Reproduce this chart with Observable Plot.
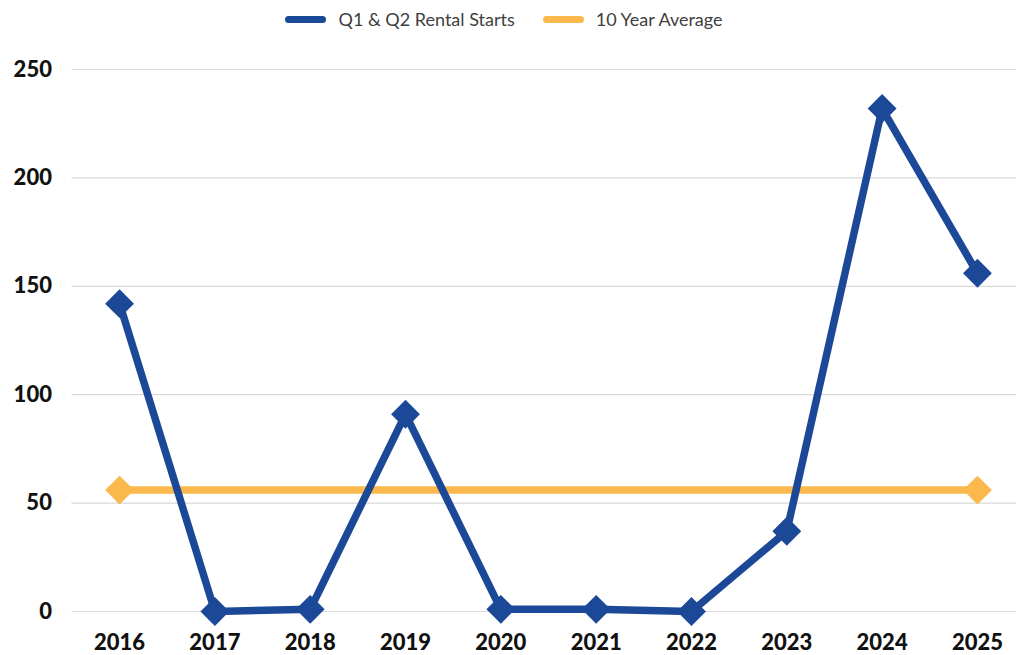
<!DOCTYPE html>
<html>
<head>
<meta charset="utf-8">
<script src="https://cdn.jsdelivr.net/npm/d3@7"></script>
<script src="https://cdn.jsdelivr.net/npm/@observablehq/plot@0.6"></script>
<style>
  html, body { margin: 0; padding: 0; background: #fff; }
  #legend { height: 38px; display: flex; justify-content: center; align-items: center; gap: 28px; font-family: Lato, "Noto Sans", sans-serif; font-size: 18px; color: #404040; padding-right: 8px; box-sizing: border-box; }
  .item { display: flex; align-items: center; gap: 12px; }
  .sw { width: 41px; height: 7px; border-radius: 4px; }
  svg { display: block; }
</style>
</head>
<body>
<div id="legend"></div>
<div id="chart"></div>
<script>
const years = [2016, 2017, 2018, 2019, 2020, 2021, 2022, 2023, 2024, 2025];
const rentalStarts = [142, 0, 1, 91, 1, 1, 0, 37, 232, 156];
const tenYearAverage = 56;
const yTicks = [0, 50, 100, 150, 200, 250];
const seriesNames = ["Q1 & Q2 Rental Starts", "10 Year Average"];
const colors = ["#1b4997", "#fbb84c"];

const starts = years.map((y, i) => ({year: y, value: rentalStarts[i]}));
const avg = [years[0], years[years.length - 1]].map(y => ({year: y, value: tenYearAverage}));

const legend = document.getElementById("legend");
seriesNames.forEach((n, i) => {
  const it = document.createElement("div");
  it.className = "item";
  it.innerHTML = `<span class="sw" style="background:${colors[i]}"></span><span>${n}</span>`;
  legend.appendChild(it);
});

const chart = Plot.plot({
  width: 1016,
  height: 617,
  marginTop: 31,
  marginBottom: 44,
  marginLeft: 71,
  marginRight: 0,
  style: {fontFamily: "Lato, 'Noto Sans', sans-serif", overflow: "hidden"},
  x: {domain: [2015.5, 2025.5], range: [71.4, 1024.6], axis: null},
  y: {domain: [0, 250], ticks: yTicks, axis: null},
  marks: [
    Plot.ruleY(yTicks, {x1: 2015.5, x2: 2025.5, stroke: "#d9d9d9", strokeWidth: 1.2}),
    Plot.text(yTicks, {x: 2015.5, y: d => d, text: d => String(d), textAnchor: "end", dx: -20, fontSize: 22, fontWeight: 900, fill: "#111"}),
    Plot.text(years, {x: d => d, y: 0, text: d => String(d), dy: 31, fontSize: 22, fontWeight: 900, fill: "#111"}),
    Plot.line(avg, {x: "year", y: "value", stroke: colors[1], strokeWidth: 7.5}),
    Plot.dot(avg, {x: "year", y: "value", symbol: "diamond2", r: 13, fill: colors[1]}),
    Plot.line(starts, {x: "year", y: "value", stroke: colors[0], strokeWidth: 7.5, strokeLinejoin: "round"}),
    Plot.dot(starts, {x: "year", y: "value", symbol: "diamond2", r: 13, fill: colors[0]})
  ]
});
document.getElementById("chart").appendChild(chart);
</script>
</body>
</html>
